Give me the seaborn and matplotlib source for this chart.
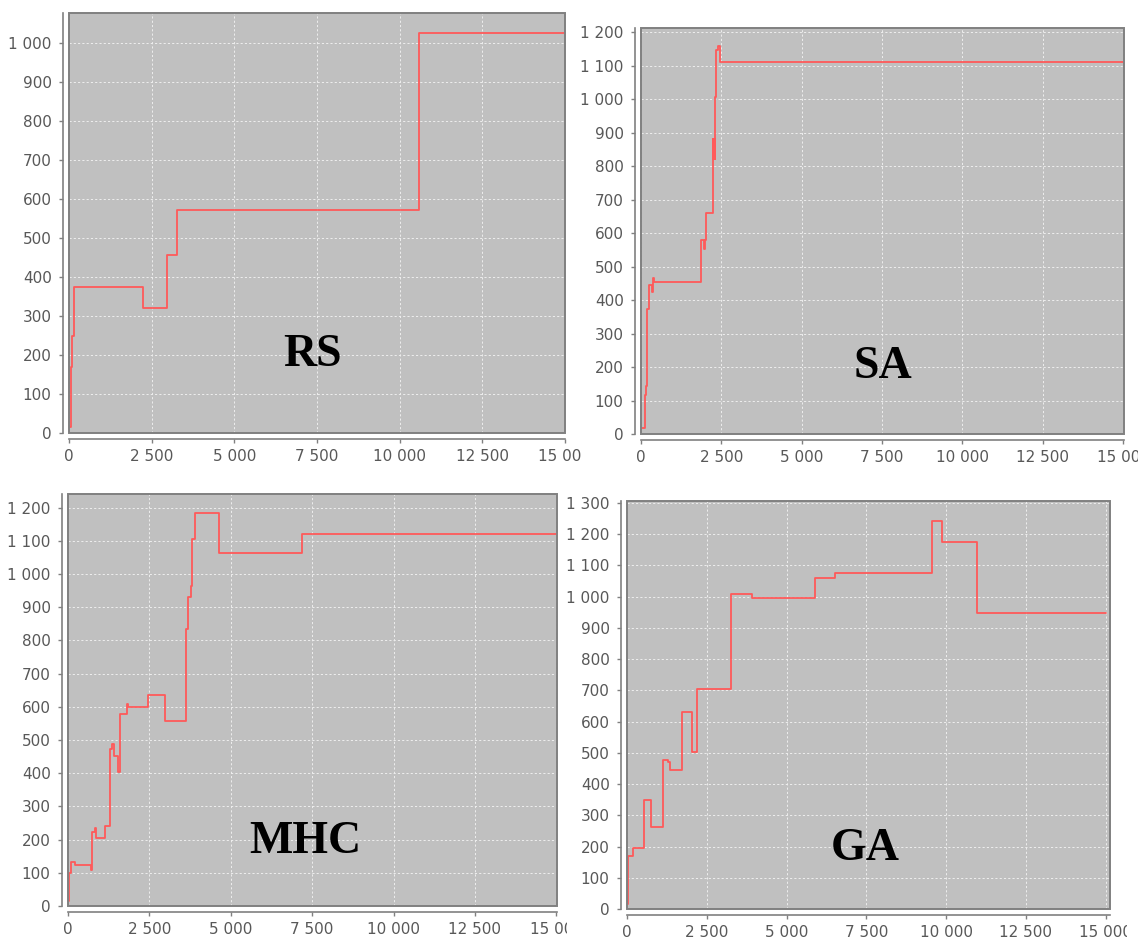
import numpy as np
import pandas as pd
import matplotlib
matplotlib.use("Agg")
import matplotlib.pyplot as plt
import seaborn as sns
from matplotlib.patches import Rectangle
from matplotlib.ticker import FuncFormatter, MultipleLocator
from matplotlib.transforms import Bbox, TransformedBbox

# ---------------- data (step change points: x = evaluation, y = best value) -------------
rs_x = [20, 50, 90, 140, 2245, 2971, 3280, 10598, 15000]
rs_y = [15, 170, 248, 375, 320, 456, 573, 1026, 1026]

sa_x = [30, 113, 147, 193, 238, 330, 385, 420, 1882, 1961, 1990, 2018, 2234,
        2245, 2256, 2267, 2278, 2290, 2302, 2347, 2404, 2449, 15000]
sa_y = [18, 117, 142, 373, 446, 423, 466, 453, 578, 552, 580, 660, 880,
        820, 880, 820, 880, 820, 1005, 1147, 1157, 1111, 1111]

mhc_x = [22, 40, 89, 212, 693, 738, 827, 860, 1151, 1285, 1364, 1408, 1542,
         1587, 1800, 1830, 2459, 2984, 3621, 3700, 3778, 3822, 3912, 4650, 7198, 15000]
mhc_y = [15, 100, 132, 122, 108, 223, 236, 206, 241, 472, 489, 452, 404,
         577, 607, 598, 636, 556, 833, 930, 964, 1104, 1184, 1062, 1121, 1121]

ga_x = [23, 40, 173, 532, 740, 1133, 1271, 1340, 1733, 2034, 2207, 3259, 3906,
        5905, 6506, 9545, 9881, 10967, 15000]
ga_y = [17, 171, 195, 350, 261, 478, 469, 446, 632, 504, 704, 1009, 997,
        1058, 1077, 1243, 1174, 949, 949]

names = ["RS", "SA", "MHC", "GA"]
series = {"RS": (rs_x, rs_y), "SA": (sa_x, sa_y), "MHC": (mhc_x, mhc_y), "GA": (ga_x, ga_y)}

# ---------------- layout (pixels in a 1138x938 canvas) ---------------------------------
W, H = 1138, 938
# left, right, top, bottom of plot area; y max; x max; label position (axes frac); clip right
panels = {
    "RS":  dict(box=(69, 565, 13, 433),   ymax=1077, xmax=15004, lab=(0.49, 0.186), clip=581),
    "SA":  dict(box=(641, 1124, 28, 434), ymax=1212, xmax=15030, lab=(0.501, 0.165), clip=1138),
    "MHC": dict(box=(68, 557, 494, 906),  ymax=1241, xmax=15020, lab=(0.486, 0.155), clip=567),
    "GA":  dict(box=(627, 1110, 501, 909), ymax=1306, xmax=15140, lab=(0.494, 0.147), clip=1127),
}

sns.set_theme(style="white")
plt.rcParams["font.family"] = ["DejaVu Sans"]

fig = plt.figure(figsize=(W / 100, H / 100), dpi=100)
fig.patch.set_facecolor("white")

fmt = FuncFormatter(lambda v, p: f"{int(round(v)):,}".replace(",", " "))
gray = "#808080"
txt_gray = "#585858"

for name in names:
    p = panels[name]
    l, r, t, b = p["box"]
    ax = fig.add_axes([l / W, (H - b) / H, (r - l) / W, (b - t) / H])
    ax.set_facecolor("#C0C0C0")
    xs, ys = series[name]
    df = pd.DataFrame({"x": xs, "y": ys})
    sns.lineplot(data=df, x="x", y="y", ax=ax, drawstyle="steps-post", sort=False,
                 estimator=None, color="#FF5A5A", linewidth=1.3, zorder=3)
    ax.set_xlim(0, p["xmax"])
    ax.set_ylim(0, p["ymax"])
    ax.xaxis.set_major_locator(MultipleLocator(2500))
    ax.yaxis.set_major_locator(MultipleLocator(100))
    ax.xaxis.set_major_formatter(fmt)
    ax.yaxis.set_major_formatter(fmt)
    ax.set_xlabel("")
    ax.set_ylabel("")
    ax.grid(True, color="#EEEEEE", linestyle=(0, (2.2, 2.2)), linewidth=0.7, zorder=1)
    ax.set_axisbelow(True)

    for s in ["top", "right"]:
        ax.spines[s].set_visible(False)
    for s in ["left", "bottom"]:
        ax.spines[s].set_visible(True)
        ax.spines[s].set_color(gray)
        ax.spines[s].set_linewidth(1.2)
        ax.spines[s].set_position(("outward", 4.5))
    ax.add_patch(Rectangle((0, 0), 1, 1, transform=ax.transAxes, fill=False,
                           edgecolor=gray, linewidth=1.4, zorder=4, clip_on=False))

    ax.tick_params(axis="both", which="major", direction="out", length=3, width=1,
                   color=gray, labelcolor=txt_gray, labelsize=11,
                   left=True, bottom=True)
    ax.tick_params(axis="y", pad=5)
    ax.tick_params(axis="x", pad=4)

    ax.text(p["lab"][0], p["lab"][1], name, transform=ax.transAxes,
            ha="center", va="center", fontsize=33, fontweight="bold",
            family=["Liberation Serif", "DejaVu Serif"], color="black", zorder=5)

    clipbox = TransformedBbox(Bbox.from_extents(0, 0, p["clip"] / W, 1), fig.transFigure)
    for lbl in ax.get_xticklabels():
        lbl.set_clip_box(clipbox)
        lbl.set_clip_on(True)

fig.savefig("out.png", dpi=100, facecolor="white")
